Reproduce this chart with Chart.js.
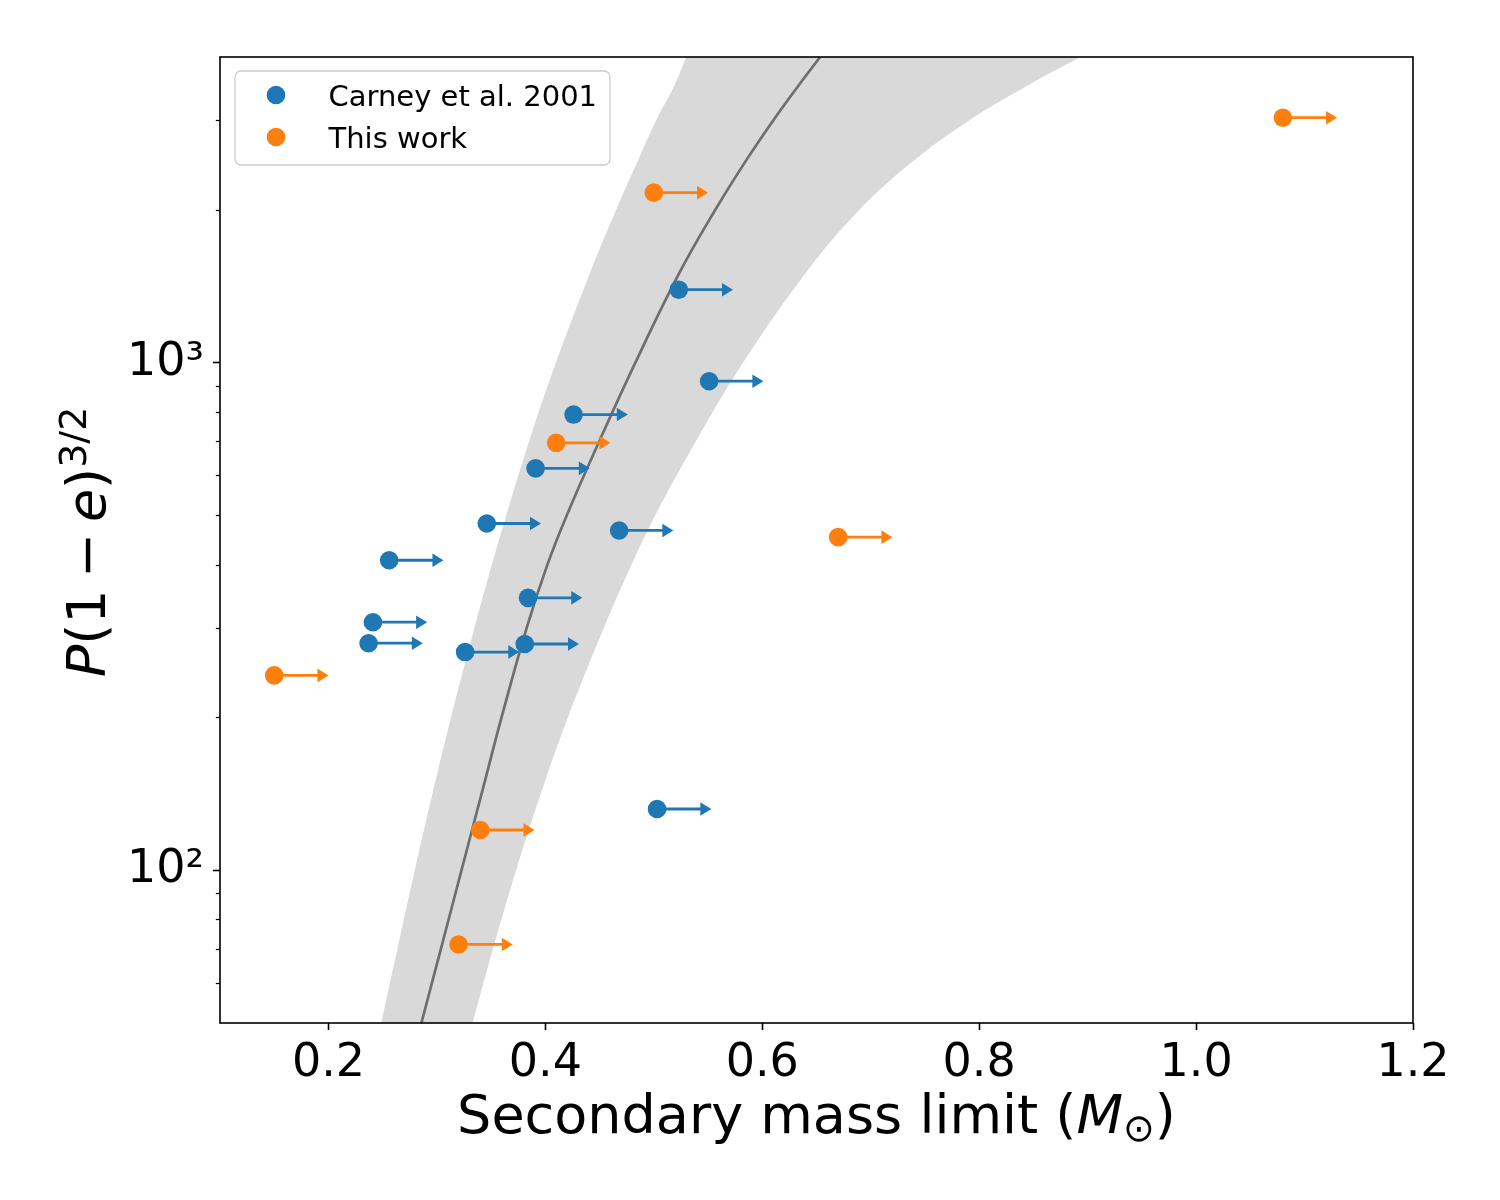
<!DOCTYPE html>
<html>
<head>
<meta charset="utf-8">
<script src="https://cdn.jsdelivr.net/npm/chart.js@4.4.1/dist/chart.umd.min.js"></script>
<style>
html, body { margin: 0; padding: 0; background: #ffffff; }
#wrap { width: 1500px; height: 1200px; }
</style>
</head>
<body>
<div id="wrap"><canvas id="c" width="1500" height="1200"></canvas></div>
<script>
// ---------------- data ----------------
const X_TICKS = [0.2, 0.4, 0.6, 0.8, 1.0, 1.2];
const X_TICK_LABELS = ['0.2', '0.4', '0.6', '0.8', '1.0', '1.2'];
const Y_MAJOR_TICKS = [100, 1000];
const Y_TICK_LABELS = ['10\u00B2', '10\u00B3'];
const Y_MINOR_TICKS = [60, 70, 80, 90, 200, 300, 400, 500, 600, 700, 800, 900, 2000, 3000];

const SERIES_LABELS = ['Carney et al. 2001', 'This work'];

const CARNEY_MASS = [0.523, 0.551, 0.426, 0.391, 0.346, 0.468, 0.256, 0.384, 0.241, 0.237, 0.381, 0.326, 0.503];
const CARNEY_PE   = [1392, 919, 790, 619, 482, 467, 408, 344, 308, 280, 279, 269, 132];

const THIS_MASS = [1.080, 0.500, 0.410, 0.670, 0.150, 0.340, 0.320];
const THIS_PE   = [3037, 2162, 695, 453, 242, 120, 71.4];

const ARROW_DX = 0.05; // lower-limit arrow length (in M_sun)

const CURVE_PE   = [50, 70, 100, 150, 200, 300, 400, 500, 700, 1000, 1500, 2000, 2500, 3000, 3500, 4000];
const CURVE_MASS = [0.2857, 0.3037, 0.3227, 0.3443, 0.3596, 0.3827, 0.4019, 0.4197, 0.4497, 0.4830, 0.5234, 0.5567, 0.5850, 0.6101, 0.6328, 0.6534];
const BAND_LOW_MASS  = [0.2488, 0.2636, 0.2796, 0.2987, 0.3130, 0.3346, 0.3507, 0.3639, 0.3851, 0.4098, 0.4411, 0.4653, 0.4853, 0.5021, 0.5185, 0.5301];
const BAND_HIGH_MASS = [0.3329, 0.3517, 0.3731, 0.3998, 0.4208, 0.4539, 0.4795, 0.5013, 0.5389, 0.5824, 0.6400, 0.6897, 0.7398, 0.7907, 0.8431, 0.8933];

// ---------------- styles ----------------
const FAM = '"DejaVu Sans", "Liberation Sans", sans-serif';
const BLUE = '#1f77b4';
const ORANGE = '#ff7f0e';

const X_TITLE_RUNS = [
  { t: 'Secondary mass limit (', font: '54px ' + FAM },
  { t: 'M', font: 'italic 54px ' + FAM },
  { t: '\u2299', font: '38px ' + FAM, dy: 8 },
  { t: ')', font: '54px ' + FAM }
];
const Y_TITLE_RUNS = [
  { t: 'P', font: 'italic 54px ' + FAM },
  { t: '(1', font: '54px ' + FAM },
  { gap: 11 },
  { t: '\u2212', font: '54px ' + FAM },
  { gap: 11 },
  { t: 'e', font: 'italic 54px ' + FAM },
  { t: ')', font: '54px ' + FAM },
  { t: '3/2', font: '38px ' + FAM, dy: -19 }
];

const zip = (xs, ys) => xs.map((v, i) => ({ x: v, y: ys[i] }));

function runsWidth(ctx, runs) {
  let w = 0;
  for (const r of runs) {
    if (r.gap) { w += r.gap; continue; }
    ctx.font = r.font;
    w += ctx.measureText(r.t).width;
  }
  return w;
}
function drawRuns(ctx, runs, x, y) {
  let cx = x;
  for (const r of runs) {
    if (r.gap) { cx += r.gap; continue; }
    ctx.font = r.font;
    ctx.fillText(r.t, cx, y + (r.dy || 0));
    cx += ctx.measureText(r.t).width;
  }
}

// arrows (lower limits) drawn after the model curve, beneath the markers
const arrowPlugin = {
  id: 'arrows',
  afterDatasetDraw(chart, args) {
    if (args.index !== 2) return;
    const ctx = chart.ctx;
    const xs = chart.scales.x, ys = chart.scales.y;
    const groups = [[CARNEY_MASS, CARNEY_PE, BLUE], [THIS_MASS, THIS_PE, ORANGE]];
    ctx.save();
    for (const [ms, ps, col] of groups) {
      ctx.strokeStyle = col; ctx.fillStyle = col; ctx.lineWidth = 2.8;
      ms.forEach((m, i) => {
        const x0 = xs.getPixelForValue(m);
        const x1 = xs.getPixelForValue(m + ARROW_DX);
        const y = ys.getPixelForValue(ps[i]);
        const hl = 11, hw = 6.8;
        ctx.beginPath(); ctx.moveTo(x0, y); ctx.lineTo(x1 - hl + 1, y); ctx.stroke();
        ctx.beginPath(); ctx.moveTo(x1, y); ctx.lineTo(x1 - hl, y - hw); ctx.lineTo(x1 - hl, y + hw); ctx.closePath(); ctx.fill();
      });
    }
    ctx.restore();
  }
};

// frame, minor ticks, axis titles, legend
const decorPlugin = {
  id: 'decor',
  afterDraw(chart) {
    const ctx = chart.ctx, a = chart.chartArea;
    const ys = chart.scales.y;
    ctx.save();
    // minor ticks
    ctx.strokeStyle = '#000'; ctx.lineWidth = 1.25;
    for (const v of Y_MINOR_TICKS) {
      const y = Math.round(ys.getPixelForValue(v)) + 0.5;
      ctx.beginPath(); ctx.moveTo(a.left - 4.2, y); ctx.lineTo(a.left, y); ctx.stroke();
    }
    // frame
    ctx.lineWidth = 1.6;
    ctx.strokeRect(a.left, a.top, a.right - a.left, a.bottom - a.top);

    // axis titles
    ctx.fillStyle = '#000'; ctx.textBaseline = 'alphabetic'; ctx.textAlign = 'left';
    const xw = runsWidth(ctx, X_TITLE_RUNS);
    drawRuns(ctx, X_TITLE_RUNS, (a.left + a.right) / 2 - xw / 2, 1133);
    const yw = runsWidth(ctx, Y_TITLE_RUNS);
    ctx.save();
    ctx.translate(105, (a.top + a.bottom) / 2 + 2);
    ctx.rotate(-Math.PI / 2);
    drawRuns(ctx, Y_TITLE_RUNS, -yw / 2, 0);
    ctx.restore();

    // legend
    const bx = 235, by = 71, bw = 375, bh = 94, r = 6;
    ctx.beginPath();
    ctx.moveTo(bx + r, by);
    ctx.arcTo(bx + bw, by, bx + bw, by + bh, r);
    ctx.arcTo(bx + bw, by + bh, bx, by + bh, r);
    ctx.arcTo(bx, by + bh, bx, by, r);
    ctx.arcTo(bx, by, bx + bw, by, r);
    ctx.closePath();
    ctx.fillStyle = 'rgba(255,255,255,0.8)'; ctx.fill();
    ctx.strokeStyle = '#cccccc'; ctx.lineWidth = 1.3; ctx.stroke();
    const cols = [BLUE, ORANGE];
    chart.data.datasets.slice(0, 2).forEach((ds, i) => {
      const cy = 95 + i * 42;
      ctx.fillStyle = cols[i];
      ctx.beginPath(); ctx.arc(276, cy, 9.3, 0, Math.PI * 2); ctx.fill();
      ctx.fillStyle = '#000';
      ctx.font = '29px ' + FAM;
      ctx.fillText(ds.label, 328.5, cy + 10.5);
    });
    ctx.restore();
  }
};

Chart.defaults.color = '#000';
Chart.defaults.font.family = FAM;

new Chart(document.getElementById('c'), {
  type: 'scatter',
  data: {
    datasets: [
      { type: 'scatter', label: SERIES_LABELS[0], data: zip(CARNEY_MASS, CARNEY_PE),
        backgroundColor: BLUE, borderWidth: 0, pointRadius: 9.3, order: 1 },
      { type: 'scatter', label: SERIES_LABELS[1], data: zip(THIS_MASS, THIS_PE),
        backgroundColor: ORANGE, borderWidth: 0, pointRadius: 9.3, order: 1 },
      { type: 'line', label: 'model', data: zip(CURVE_MASS, CURVE_PE), indexAxis: 'y',
        borderColor: '#6e6e6e', borderWidth: 2.7, pointRadius: 0, fill: false,
        tension: 0.4, order: 5 },
      { type: 'line', label: 'band low', data: zip(BAND_LOW_MASS, CURVE_PE), indexAxis: 'y',
        borderColor: 'rgba(0,0,0,0)', borderWidth: 0, pointRadius: 0, fill: '+1',
        backgroundColor: '#d9d9d9', tension: 0.4, order: 10 },
      { type: 'line', label: 'band high', data: zip(BAND_HIGH_MASS, CURVE_PE), indexAxis: 'y',
        borderColor: 'rgba(0,0,0,0)', borderWidth: 0, pointRadius: 0, fill: false,
        backgroundColor: '#d9d9d9', tension: 0.4, order: 10 }
    ]
  },
  options: {
    responsive: false,
    animation: false,
    events: [],
    layout: { padding: { left: 0, right: 87, top: 57, bottom: 0 } },
    plugins: { legend: { display: false }, tooltip: { enabled: false } },
    scales: {
      x: {
        type: 'linear', min: 0.1, max: 1.2,
        afterFit: (s) => { s.height = 177; },
        afterBuildTicks: (s) => { s.ticks = X_TICKS.map(v => ({ value: v })); },
        ticks: {
          autoSkip: false, maxRotation: 0, padding: 6,
          font: { size: 46, family: FAM },
          callback: (v) => { const i = X_TICKS.findIndex(t => Math.abs(t - v) < 1e-9); return i >= 0 ? X_TICK_LABELS[i] : ''; }
        },
        grid: { display: true, drawOnChartArea: false, drawTicks: true, tickLength: 7, tickWidth: 1.6, tickColor: '#000' },
        border: { display: false }
      },
      y: {
        type: 'logarithmic', min: 50, max: 4000,
        afterFit: (s) => { s.width = 220; },
        afterBuildTicks: (s) => { s.ticks = Y_MAJOR_TICKS.map(v => ({ value: v })); },
        ticks: {
          autoSkip: false, padding: 9,
          font: { size: 46, family: FAM },
          callback: (v) => { const i = Y_MAJOR_TICKS.indexOf(v); return i >= 0 ? Y_TICK_LABELS[i] : ''; }
        },
        grid: { display: true, drawOnChartArea: false, drawTicks: true, tickLength: 7, tickWidth: 1.6, tickColor: '#000' },
        border: { display: false }
      }
    }
  },
  plugins: [arrowPlugin, decorPlugin]
});
</script>
</body>
</html>
